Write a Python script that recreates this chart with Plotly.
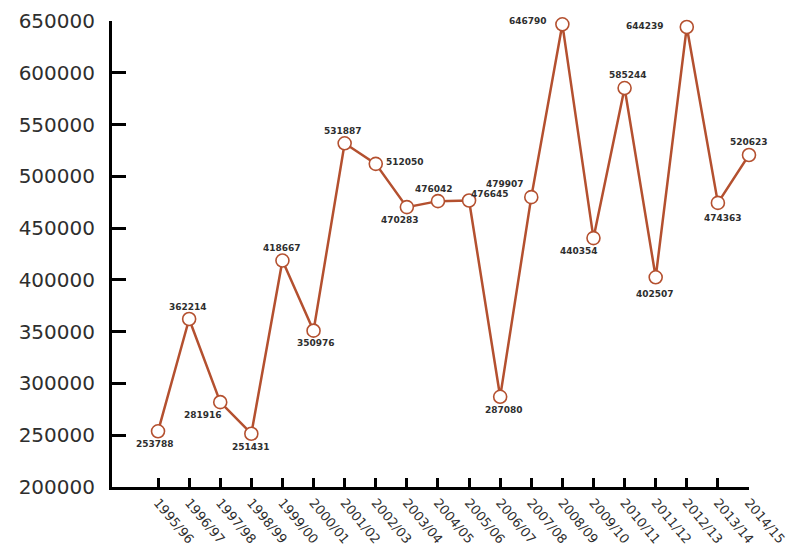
import plotly.graph_objects as go

# Seasons on the x axis and yearly totals
seasons = ["1995/96", "1996/97", "1997/98", "1998/99", "1999/00", "2000/01",
           "2001/02", "2002/03", "2003/04", "2004/05", "2005/06", "2006/07",
           "2007/08", "2008/09", "2009/10", "2010/11", "2011/12", "2012/13",
           "2013/14", "2014/15"]
totals = [253788, 362214, 281916, 251431, 418667, 350976, 531887, 512050,
          470283, 476042, 476645, 287080, 479907, 646790, 440354, 585244,
          402507, 644239, 474363, 520623]
y_ticks = [200000, 250000, 300000, 350000, 400000, 450000, 500000, 550000,
           600000, 650000]

# Pixel offset (dx, dy) of each value label from its point
label_shift = [(-3, -13), (-1, 12), (-17, -13), (0, -13), (0, 13), (2, -12),
               (-2, 12), (29, 2), (-7, -13), (-4, 12), (21, 7), (4, -13),
               (-26, 13), (-34, 3), (-14, -13), (3, 13), (-1, -17), (-42, 1),
               (5, -15), (0, 13)]

LINE = "#b4502f"
INK = "#2e2e2e"

x_idx = list(range(len(seasons)))

fig = go.Figure(
    go.Scatter(
        x=x_idx,
        y=totals,
        mode="lines+markers",
        line=dict(color=LINE, width=2.5),
        marker=dict(size=13, color="white", line=dict(color=LINE, width=1.6)),
        cliponaxis=False,
        hoverinfo="x+y",
    )
)

for xi, v, (dx, dy) in zip(x_idx, totals, label_shift):
    fig.add_annotation(
        x=xi, y=v, text=str(v), showarrow=False,
        xshift=dx, yshift=dy,
        font=dict(family="DejaVu Sans", size=9, color=INK, weight="bold"),
    )

fig.update_layout(
    width=791,
    height=547,
    margin=dict(l=112, r=42, t=21, b=60),
    paper_bgcolor="white",
    plot_bgcolor="white",
    showlegend=False,
    xaxis=dict(
        range=[-1.48, 19],
        tickmode="array",
        tickvals=x_idx,
        ticktext=seasons,
        tickangle=50,
        ticks="inside",
        ticklen=9,
        tickwidth=2.5,
        tickcolor="black",
        showline=True,
        linecolor="black",
        linewidth=3,
        showgrid=False,
        zeroline=False,
        automargin=False,
        tickfont=dict(family="DejaVu Sans", size=13, color=INK),
    ),
    yaxis=dict(
        range=[200000, 650000],
        tickmode="array",
        tickvals=y_ticks,
        ticktext=[str(v) for v in y_ticks],
        ticks="inside",
        ticklen=14,
        tickwidth=2.5,
        tickcolor="black",
        ticklabelstandoff=10,
        showline=True,
        linecolor="black",
        linewidth=3,
        showgrid=False,
        zeroline=False,
        automargin=False,
        tickfont=dict(family="DejaVu Sans", size=20, color=INK),
    ),
)

fig.write_html("out.html")
